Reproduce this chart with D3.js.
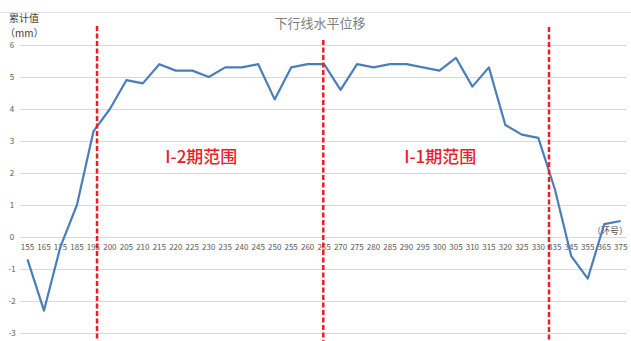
<!DOCTYPE html>
<html>
<head>
<meta charset="utf-8">
<script src="https://cdn.jsdelivr.net/npm/d3@7"></script>
<style>
  body { margin: 0; background: #fff; }
  text { font-family: "Noto Sans CJK SC", "Noto Sans", sans-serif; }
</style>
</head>
<body>
<div id="chart"></div>
<script>
// ring numbers (环号) and cumulative horizontal displacement (mm)
var rings = [155, 165, 175, 185, 195, 200, 205, 210, 215, 220, 225, 230, 235, 240, 245,
  250, 255, 260, 265, 270, 275, 280, 285, 290, 295, 300, 305, 310, 315, 320, 325, 330,
  335, 345, 355, 365, 375];
var values = [-0.7, -2.3, -0.3, 1.0, 3.3, 4.0, 4.9, 4.8, 5.4, 5.2, 5.2, 5.0, 5.3, 5.3, 5.4,
  4.3, 5.3, 5.4, 5.4, 4.6, 5.4, 5.3, 5.4, 5.4, 5.3, 5.2, 5.6, 4.7, 5.3, 3.5, 3.2, 3.1,
  1.5, -0.6, -1.3, 0.4, 0.5];
var yTicks = [-3, -2, -1, 0, 1, 2, 3, 4, 5, 6];
// boundary lines, as position along the category axis (index units)
var boundaries = [4.22, 17.95, 31.65];
var boundaryTop = [26, 40, 27];
var zones = [
  { label: "I-2期范围", at: 10.55 },
  { label: "I-1期范围", at: 25.05 }
];

var W = 631, H = 341;
var svg = d3.select("#chart").append("svg")
  .attr("width", W).attr("height", H);

var x = d3.scaleLinear().domain([0, rings.length - 1]).range([27.5, 620.7]);
var y = d3.scaleLinear().domain([-3, 6]).range([333, 45]);

// top border line
svg.append("line")
  .attr("x1", 0).attr("x2", W).attr("y1", 12.5).attr("y2", 12.5)
  .attr("stroke", "#e4e4e4").attr("stroke-width", 1);

// grid
svg.append("g").selectAll("line").data(yTicks).enter().append("line")
  .attr("x1", 20).attr("x2", 626)
  .attr("y1", function(d) { return Math.round(y(d)) + 0.5; })
  .attr("y2", function(d) { return Math.round(y(d)) + 0.5; })
  .attr("stroke", "#d9d9d9").attr("stroke-width", 1);

// y tick labels
svg.append("g").selectAll("text").data(yTicks).enter().append("text")
  .attr("x", 12).attr("y", function(d) { return y(d) + 3; })
  .attr("text-anchor", "middle")
  .attr("font-size", 8).attr("fill", "#595959")
  .text(function(d) { return d; });

// category labels along the zero line
svg.append("g").selectAll("text").data(rings).enter().append("text")
  .attr("x", function(d, i) { return x(i); })
  .attr("y", y(0) + 13)
  .attr("text-anchor", "middle")
  .attr("font-size", 8).attr("fill", "#595959")
  .text(function(d) { return d; });

// titles
svg.append("text").attr("x", 320).attr("y", 28)
  .attr("text-anchor", "middle").attr("font-size", 13).attr("fill", "#7f7f7f")
  .text("下行线水平位移");
svg.append("text").attr("x", 9).attr("y", 22)
  .attr("font-size", 10).attr("fill", "#404040").text("累计值");
svg.append("text").attr("x", 5).attr("y", 37)
  .attr("font-size", 10).attr("fill", "#404040").text("（mm）");
svg.append("text").attr("x", 628).attr("y", 234)
  .attr("text-anchor", "end").attr("font-size", 9).attr("fill", "#595959")
  .text("（环号）");

// data line
var line = d3.line()
  .x(function(d, i) { return x(i); })
  .y(function(d) { return y(d); });
svg.append("path").datum(values)
  .attr("d", line)
  .attr("fill", "none")
  .attr("stroke", "#4a7ebb")
  .attr("stroke-width", 2.2)
  .attr("stroke-linejoin", "round");

// red dashed boundaries
svg.append("g").selectAll("line").data(boundaries).enter().append("line")
  .attr("x1", function(d) { return x(d); })
  .attr("x2", function(d) { return x(d); })
  .attr("y1", function(d, i) { return boundaryTop[i]; })
  .attr("y2", H)
  .attr("stroke", "#ee1c25")
  .attr("stroke-width", 2.5)
  .attr("stroke-dasharray", "5,2.5");

// zone labels
svg.append("g").selectAll("text").data(zones).enter().append("text")
  .attr("x", function(d) { return x(d.at); })
  .attr("y", 163)
  .attr("text-anchor", "middle")
  .attr("font-size", 17).attr("font-weight", 500).attr("fill", "#e8202a")
  .text(function(d) { return d.label; });
</script>
</body>
</html>
